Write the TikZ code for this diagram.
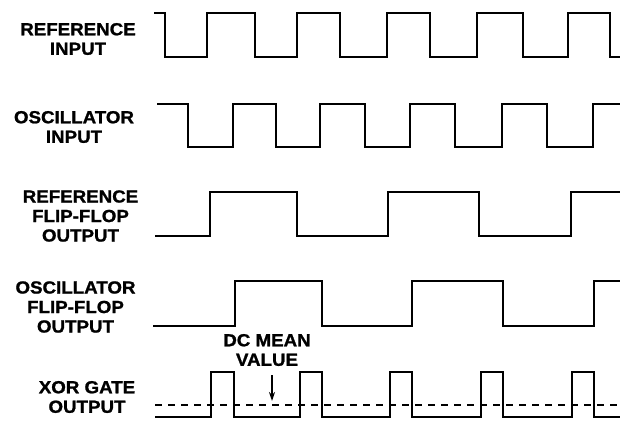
\documentclass[tikz,border=0pt]{standalone}
\usepackage{fontspec}
\setmainfont{Liberation Sans}[FakeStretch=1.07, BoldFeatures={FakeBold=1.2}]
\usepackage{tikz}
\usetikzlibrary{
  arrows.meta,
  positioning
}
\tikzset{
  >={Stealth[length=9pt, width=6pt]},
  lbl/.style={align=center, inner sep=0pt,
    font=\fontsize{17.5}{19.5}\selectfont\bfseries},
  wave/.style={line width=2pt},
  mean/.style={line width=1.6pt, dash pattern=on 7pt off 6pt}
}

\begin{document}
\begin{tikzpicture}[x=1pt, y=-1pt]
    \useasboundingbox (0,0) rectangle (620,420);

    % signal names
    \node[lbl] (refin)  at (78,39)    {REFERENCE\\INPUT};
    \node[lbl] (oscin)  at (74,127)   {OSCILLATOR\\INPUT};
    \node[lbl] (refff)  at (80.5,216) {REFERENCE\\FLIP-FLOP\\OUTPUT};
    \node[lbl] (oscff)  at (75.5,307) {OSCILLATOR\\FLIP-FLOP\\OUTPUT};
    \node[lbl] (xorout) at (87,397)   {XOR GATE\\OUTPUT};
    \node[lbl] (dcmean) at (267,350)  {DC MEAN\\VALUE};

    % reference input
    \draw[wave] (154,13) -| (165,57) -| (207,13) -| (255,57) -| (297,13)
      -| (340,57) -| (387,13) -| (430,57) -| (477,13) -| (523,57)
      -| (568,13) -| (610,57) -- (620,57);

    % oscillator input
    \draw[wave] (157,104) -| (188,147) -| (233,104) -| (276,147) -| (320,104)
      -| (365,147) -| (410,104) -| (455,147) -| (502,104) -| (547,147)
      -| (593,104) -- (620,104);

    % reference flip-flop output
    \draw[wave] (155,236) -| (210,192) -| (297,236) -| (388,192)
      -| (479,236) -| (571,192) -- (620,192);

    % oscillator flip-flop output
    \draw[wave] (153,326) -| (235,281) -| (322,326) -| (412,281)
      -| (503,326) -| (594,281) -- (620,281);

    % xor gate output
    \draw[wave] (155,417) -| (211,372) -| (234,417) -| (300,372) -| (322,417)
      -| (390,372) -| (412,417) -| (481,372) -| (503,417) -| (572,372)
      -| (594,417) -- (620,417);
    \draw[mean] (155,405) -- (620,405);

    \coordinate (dcpt) at (272,401);
    \draw[->, line width=1.6pt] (dcpt |- 0,375) -- (dcpt);
\end{tikzpicture}
\end{document}
